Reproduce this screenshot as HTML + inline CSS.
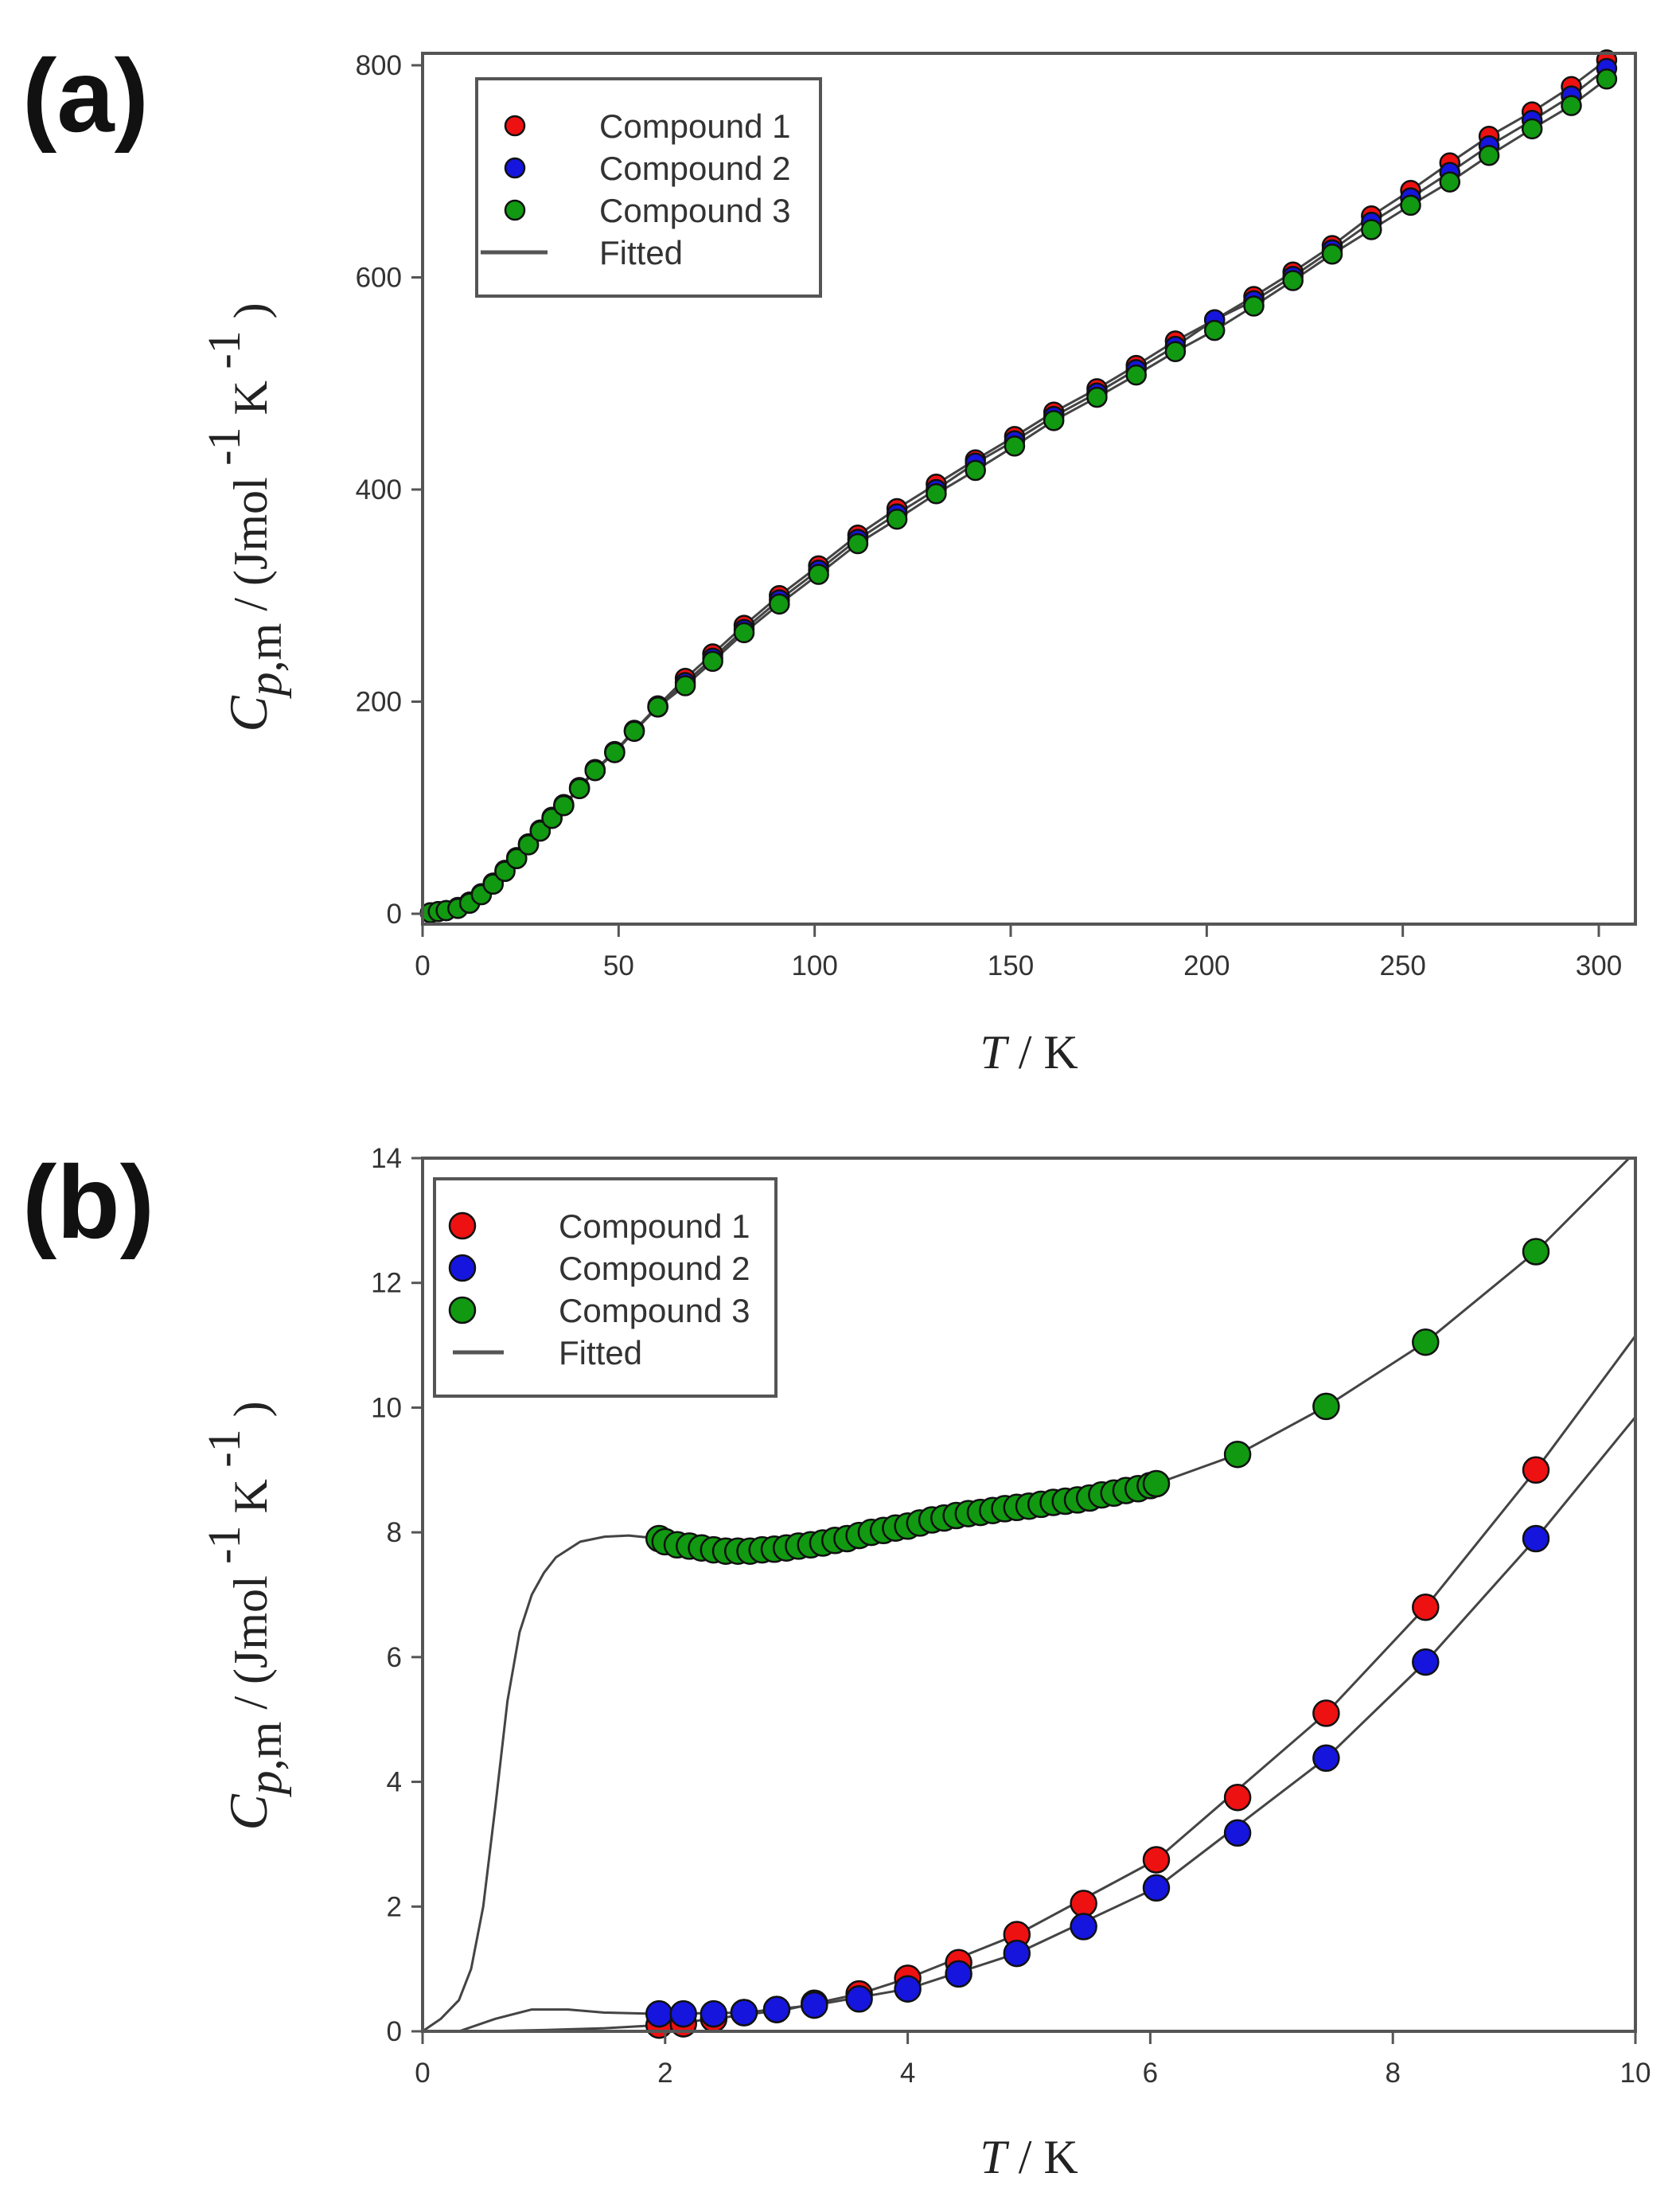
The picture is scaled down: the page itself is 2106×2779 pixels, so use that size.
<!DOCTYPE html>
<html><head><meta charset="utf-8"><style>
html,body{margin:0;padding:0;background:#fff;}
svg{display:block;}
.tick{font-family:"Liberation Sans",sans-serif;font-size:35px;fill:#333;}
.leg{font-family:"Liberation Sans",sans-serif;font-size:42px;fill:#333;}
.title{font-family:"Liberation Serif",serif;font-size:60px;fill:#222;}
.panel{font-family:"Liberation Sans",sans-serif;font-weight:bold;font-size:130px;fill:#111;}
</style></head><body>
<svg id="fig" width="2106" height="2779" viewBox="0 0 2106 2779" xmlns="http://www.w3.org/2000/svg">
<rect width="2106" height="2779" fill="#fff"/>
</svg>
<script>
// ---- Panel (a) data ----
const aT1 = [2,4,6,9,12,15,18,21,24,27,30,33,36,40,44,49,54,60,67,74,82,91,101,111,121,131,141,151,161,172,182,192,202,212,222,232,242,252,262,272,283,293,302];
const aC1 = [1,2,3,6,11,19,29,41,53,66,79,91,103,119,136,153,173,196,222,245,272,300,328,357,382,405,428,450,473,495,517,540,560,582,605,630,658,682,708,733,756,780,805];
const aT2 = aT1;
const aC2 = [1,2,3,5,10,18,28,40,52,65,78,90,102,118,135,152,172,195,218,241,268,296,324,353,377,400,425,446,469,491,513,535,560,578,601,626,652,675,699,724,748,771,797];
const aT3 = aT1;
const aC3 = [1,2,3,5,10,18,28,40,52,65,78,90,102,118,135,152,172,195,215,238,265,292,320,349,372,396,418,441,465,487,508,530,550,573,597,622,645,668,690,715,740,762,787];
const aXTicks = [0,50,100,150,200,250,300];
const aYTicks = [0,200,400,600,800];

// ---- Panel (b) data ----
const bT1 = [1.95,2.15,2.4,2.65,2.92,3.23,3.6,4.0,4.42,4.9,5.45,6.05,6.72,7.45,8.27,9.18];
const bC1 = [0.1,0.12,0.2,0.3,0.35,0.45,0.6,0.85,1.1,1.55,2.05,2.75,3.75,5.1,6.8,9.0];
const bT2 = [1.95,2.15,2.4,2.65,2.92,3.23,3.6,4.0,4.42,4.9,5.45,6.05,6.72,7.45,8.27,9.18];
const bC2 = [0.28,0.28,0.28,0.3,0.35,0.42,0.52,0.68,0.92,1.25,1.68,2.3,3.18,4.38,5.92,7.9];
const bT3 = [1.95,2.0,2.1,2.2,2.3,2.4,2.5,2.6,2.7,2.8,2.9,3.0,3.1,3.2,3.3,3.4,3.5,3.6,3.7,3.8,3.9,4.0,4.1,4.2,4.3,4.4,4.5,4.6,4.7,4.8,4.9,5.0,5.1,5.2,5.3,5.4,5.5,5.6,5.7,5.8,5.9,6.0,6.05,6.72,7.45,8.27,9.18];
const bC3 = [7.9,7.85,7.8,7.78,7.75,7.72,7.7,7.7,7.7,7.72,7.73,7.75,7.78,7.8,7.83,7.87,7.9,7.95,8.0,8.03,8.07,8.1,8.15,8.2,8.23,8.27,8.3,8.32,8.35,8.38,8.4,8.42,8.45,8.48,8.5,8.52,8.55,8.6,8.63,8.67,8.7,8.75,8.78,9.25,10.02,11.05,12.5];
const bFitT1 = [0,0.5,1.0,1.5,1.95,2.4,3.0,3.6,4.0,4.9,6.05,7.45,8.27,9.18,10];
const bFitC1 = [0,0,0.02,0.05,0.1,0.2,0.35,0.6,0.85,1.55,2.75,5.1,6.8,9.0,11.15];
const bFitT2 = [0,0.3,0.6,0.9,1.2,1.5,1.95,2.65,3.23,4.0,4.9,6.05,7.45,8.27,9.18,10];
const bFitC2 = [0,0,0.2,0.35,0.35,0.3,0.28,0.3,0.42,0.68,1.25,2.3,4.38,5.92,7.9,9.85];
const bFitT3 = [0,0.15,0.3,0.4,0.5,0.6,0.7,0.8,0.9,1.0,1.1,1.3,1.5,1.7,1.95,2.3,2.7,3.2,3.7,4.2,4.7,5.2,5.7,6.05,6.72,7.45,8.27,9.18,10];
const bFitC3 = [0,0.2,0.5,1.0,2.0,3.6,5.3,6.4,7.0,7.35,7.6,7.85,7.93,7.95,7.9,7.75,7.7,7.8,8.0,8.2,8.35,8.48,8.63,8.78,9.25,10.02,11.05,12.5,14.1];
const bXTicks = [0,2,4,6,8,10];
const bYTicks = [0,2,4,6,8,10,12,14];

const NS = "http://www.w3.org/2000/svg";
const svg = document.getElementById('fig');
function el(tag, attrs, parent){ const e=document.createElementNS(NS,tag); for(const k in attrs) e.setAttribute(k,attrs[k]); (parent||svg).appendChild(e); return e; }

function panel(cfg){
  const g = el('g',{});
  
  
  const sx = v => cfg.x0 + (v - cfg.xmin) / (cfg.xmax - cfg.xmin) * (cfg.x1 - cfg.x0);
  const sy = v => cfg.y0 - (v - cfg.ymin) / (cfg.ymax - cfg.ymin) * (cfg.y0 - cfg.y1);
  cfg.fits.forEach((f,i)=>{
    const pts = f[0].map((t,j)=>sx(t).toFixed(1)+','+sy(f[1][j]).toFixed(1)).join(' ');
    const pl = el('polyline',{points:pts,fill:'none',stroke:'#444','stroke-width':3,'stroke-linejoin':'round','clip-path':'url(#'+cfg.clip+')'},g);
    
    
  });
  cfg.series.forEach((s,i)=>{
    const sg = el('g',{},g);
    
    
    s.t.forEach((t,j)=>{
      const c = el('circle',{cx:sx(t).toFixed(1),cy:sy(s.c[j]).toFixed(1),r:cfg.r,fill:s.color,stroke:'#111','stroke-width':2.5},sg);
      
      
    });
  });
  const fr = el('rect',{x:cfg.x0,y:cfg.top,width:cfg.right-cfg.x0,height:cfg.bottom-cfg.top,fill:'none',stroke:'#555','stroke-width':4},g);
  
  
  cfg.xticks.forEach(v=>{
    const x=sx(v);
    el('line',{x1:x,y1:cfg.bottom,x2:x,y2:cfg.bottom+16,stroke:'#555','stroke-width':3},g);
    const t=el('text',{x:x,y:cfg.bottom+64,'text-anchor':'middle',class:'tick'},g);
    t.textContent=v;
    
    
  });
  cfg.yticks.forEach(v=>{
    const y=sy(v);
    el('line',{x1:cfg.x0-14,y1:y,x2:cfg.x0,y2:y,stroke:'#555','stroke-width':3},g);
    const t=el('text',{x:cfg.x0-26,y:y+12,'text-anchor':'end',class:'tick'},g);
    t.textContent=v;
    
    
  });
  const L=cfg.leg;
  const lg = el('g',{},g);
  
  
  el('rect',{x:L.x,y:L.y,width:L.w,height:L.h,fill:'#fff',stroke:'#555','stroke-width':4},lg);
  const labels=['Compound 1','Compound 2','Compound 3','Fitted'];
  const cols=['#ee1111','#1515dd','#119911'];
  labels.forEach((lab,i)=>{
    const yy=L.ry[i];
    if(i<3){ el('circle',{cx:L.mx,cy:yy,r:cfg.r,fill:cols[i],stroke:'#111','stroke-width':2.5},lg); }
    else { el('line',{x1:L.lx-L.lh,y1:yy,x2:L.lx+L.lh,y2:yy,stroke:'#555','stroke-width':5},lg); }
    const t=el('text',{x:L.tx,y:yy+15,class:'leg'},lg);
    t.textContent=lab;
    
    
  });
  const xt=el('text',{x:cfg.xtx,y:cfg.xty,'text-anchor':'middle',class:'title'},g);
  xt.innerHTML='<tspan font-style="italic">T</tspan> / K';
  
  
  const yt=el('text',{x:0,y:0,'text-anchor':'middle',class:'title',transform:'translate('+cfg.ytx+','+cfg.yty+') rotate(-90)'},g);
  yt.innerHTML='<tspan font-style="italic" font-size="68">C</tspan><tspan font-style="italic" dy="18">p</tspan><tspan>,m</tspan><tspan dy="-18"> / (Jmol</tspan><tspan dy="-34" font-size="58"> -1</tspan><tspan dy="34"> K</tspan><tspan dy="-34" font-size="58"> -1</tspan><tspan dy="34"> )</tspan>';
  
  
  const pl=el('text',{x:cfg.plx,y:cfg.ply,class:'panel'},g);
  pl.textContent=cfg.label;
  
  
}

const defs=el('defs',{});
const c1=el('clipPath',{id:'clipA'},defs); el('rect',{x:531,y:67,width:1524,height:1094},c1);
const c2=el('clipPath',{id:'clipB'},defs); el('rect',{x:531,y:1455,width:1524,height:1097},c2);

panel({name:'panel-a-chart',clip:'clipA',x0:531,x1:2009,xmin:0,xmax:300,y0:1148,y1:82,ymin:0,ymax:800,
  top:67,bottom:1161,right:2055,r:12,
  fits:[[aT1,aC1],[aT2,aC2],[aT3,aC3]],
  series:[{t:aT1,c:aC1,color:'#ee1111'},{t:aT2,c:aC2,color:'#1515dd'},{t:aT3,c:aC3,color:'#119911'}],
  xticks:aXTicks,yticks:aYTicks,
  leg:{x:599,y:99,w:432,h:273,mx:647,lx:646,lh:42,tx:753,ry:[158,211,264,317]},
  xtx:1293,xty:1342,ytx:335,yty:650,plx:28,ply:165,label:'(a)'});

panel({name:'panel-b-chart',clip:'clipB',x0:531,x1:2055,xmin:0,xmax:10,y0:2552,y1:1455,ymin:0,ymax:14,
  top:1455,bottom:2552,right:2055,r:16,
  fits:[[bFitT1,bFitC1],[bFitT2,bFitC2],[bFitT3,bFitC3]],
  series:[{t:bT1,c:bC1,color:'#ee1111'},{t:bT2,c:bC2,color:'#1515dd'},{t:bT3,c:bC3,color:'#119911'}],
  xticks:bXTicks,yticks:bYTicks,
  leg:{x:546,y:1481,w:429,h:273,mx:581,lx:601,lh:32,tx:702,ry:[1540,1593,1646,1699]},
  xtx:1293,xty:2730,ytx:335,yty:2030,plx:28,ply:1555,label:'(b)'});
</script>
</body></html>
